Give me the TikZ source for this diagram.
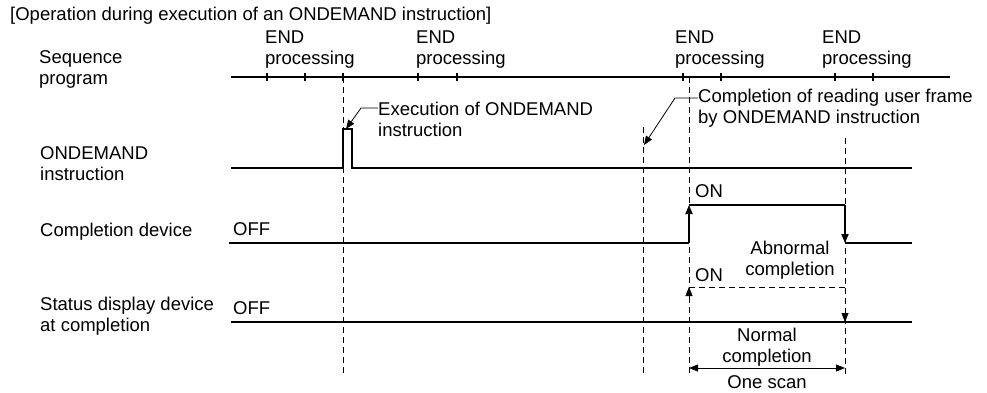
\documentclass[tikz,border=0pt]{standalone}
\usepackage{fontspec}
\setmainfont{Liberation Sans}
\usetikzlibrary{arrows.meta,positioning,calc}
\tikzset{
  >={Triangle[length=9pt,width=7pt]},
  sig/.style={line width=1.8pt},
  guide/.style={line width=0.8pt,dash pattern=on 6pt off 4pt},
  lead/.style={line width=0.8pt},
  txt/.style={font=\fontsize{18.5}{21}\selectfont,inner sep=0pt,align=left},
  ctxt/.style={txt,align=center},
}

\begin{document}
\begin{tikzpicture}[x=1pt,y=-1pt]
  \useasboundingbox (0,0) rectangle (987,392);
  % titles and row names
  \node[txt,anchor=west] (title) at (10,16) {[Operation during execution of an ONDEMAND instruction]};
  \node[txt,anchor=west] (seq) at (39,69) {Sequence\\program};
  \node[txt,anchor=west] (ond) at (40,164) {ONDEMAND\\instruction};
  \node[txt,anchor=west] (cdev) at (40,232) {Completion device};
  \node[txt,anchor=west] (sdev) at (40,316) {Status display device\\at completion};
  % END processing marks
  \node[txt,anchor=west] (end1) at (265,50) {END\\processing};
  \node[txt,anchor=west] (end2) at (416,50) {END\\processing};
  \node[txt,anchor=west] (end3) at (675,50) {END\\processing};
  \node[txt,anchor=west] (end4) at (822,50) {END\\processing};
  \draw[sig] (231,77) -- (950,77);
  \foreach \x in {267,305,343,418,457,683,721,835,873}
    \draw[line width=1.2pt] (\x,73) -- (\x,81);
  % timing guides
  \draw[guide] (343,77) -- (343,376);
  \draw[guide] (643,127) -- (643,376);
  \draw[guide] (689,77) -- (689,376);
  \draw[guide] (845,138) -- (845,376);
  % ONDEMAND instruction
  \draw[sig] (231,168) -- (343,168) -- (343,129) -- (352,129) -- (352,168) -- (912,168);
  \node[txt,anchor=west] (exe) at (378,119) {Execution of ONDEMAND\\instruction};
  \coordinate (e1) at (361,108);
  \draw[lead,->] (exe.west |- e1) -- (e1) -- (346,129);
  \node[txt,anchor=west] (cmp) at (698,108) {Completion of reading user frame\\by ONDEMAND instruction};
  \coordinate (c1) at (675,98);
  \draw[lead,->] (cmp.west |- c1) -- (c1) -- (644,145);
  % completion device
  \node[txt,anchor=west] (off1) at (233,229) {OFF};
  \node[txt,anchor=west] (on1) at (695,191) {ON};
  \draw[sig] (229,243) -- (689,243);
  \draw[sig,->] (689,243) -- (689,205);
  \draw[sig] (689,205) -- (845,205);
  \draw[sig,->] (845,205) -- (845,243);
  \draw[sig] (845,243) -- (912,243);
  \node[ctxt] (abn) at (790,260) {Abnormal\\completion};
  % status display device
  \node[txt,anchor=west] (off2) at (233,308) {OFF};
  \node[txt,anchor=west] (on2) at (695,275) {ON};
  \draw[sig] (231,322) -- (912,322);
  \draw[guide] (689,287) -- (845,287);
  \draw[->] (689,300) -- (689,287);
  \draw[->] (845,309) -- (845,322);
  \node[ctxt] (nrm) at (767,347) {Normal\\completion};
  \draw[lead,<->] (689,368) -- (845,368);
  \node[ctxt] (scan) at (767,382) {One scan};
\end{tikzpicture}
\end{document}
